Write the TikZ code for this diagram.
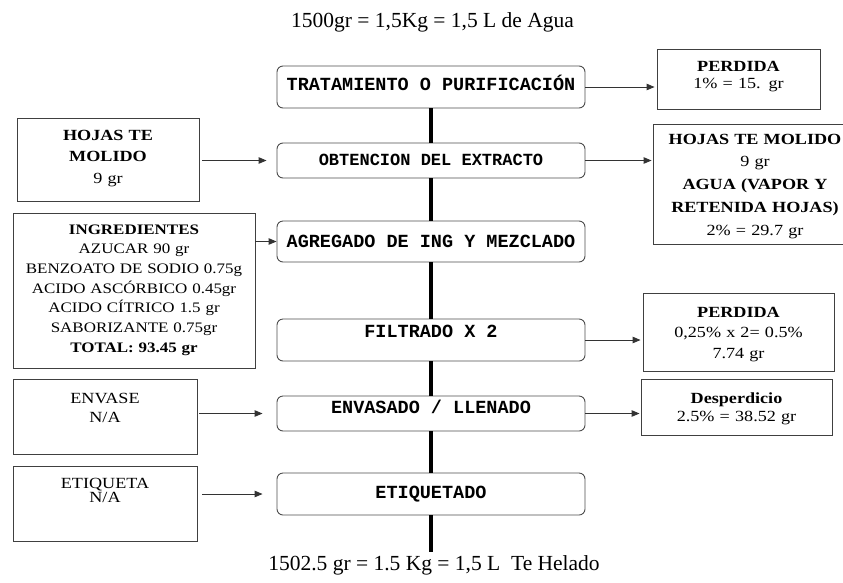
\documentclass[tikz,border=0pt]{standalone}
\usepackage{fontspec}
\setmainfont{Liberation Serif}
\newfontfamily\boxfont[FakeStretch=1.17]{Liberation Serif}
\newfontfamily\procfont{Liberation Mono}
\usetikzlibrary{arrows.meta}
\newcommand\bxf[2]{\boxfont\fontsize{#1}{#2}\selectfont}
\newcommand\prf[1]{\procfont\bfseries\fontsize{#1}{20}\selectfont}
\tikzset{
	proc/.style={draw=black!70,line width=0.9pt,rounded corners=6pt,minimum width=308pt,inner sep=0pt,anchor=base,font=\prf{18.5}},
	side/.style={draw=black!75,line width=0.9pt,inner sep=0pt,anchor=base,align=center},
	arr/.style={draw=black!80,line width=0.9pt,-{Triangle[length=8pt,width=6.5pt]}},
	flow/.style={line width=3.5pt},
	big/.style={anchor=base,font=\fontsize{21.5}{24}\selectfont}
}

\begin{document}
\begin{tikzpicture}[x=1pt,y=-1pt]
	\useasboundingbox (0,0) rectangle (843,582);
	\node[big] (entrada) at (432.5,27.5) {1500gr = 1,5Kg = 1,5 L de Agua};
	% etapas del proceso
	\node[proc,text height=24pt,text depth=18pt] (trat) at (431,90) {TRATAMIENTO O PURIFICACIÓN};
	\node[proc,text height=22pt,text depth=13pt,font=\prf{17}] (obt) at (431,165) {OBTENCION DEL EXTRACTO};
	\node[proc,text height=26pt,text depth=15pt] (agreg) at (431,247) {AGREGADO DE ING Y MEZCLADO};
	\node[proc,text height=18pt,text depth=24pt] (filt) at (431,337) {FILTRADO X 2};
	\node[proc,text height=17pt,text depth=18pt] (envas) at (431,413) {ENVASADO / LLENADO};
	\node[proc,text height=25pt,text depth=17pt] (etiq) at (431,498) {ETIQUETADO};
	\node[big] (salida) at (434,570) {1502.5 gr = 1.5 Kg = 1,5 L \ Te Helado};
	\coordinate (fin) at (431,552);
	% entradas
	\node[side,text width=182pt,text height=22pt,text depth=61pt,font=\bxf{15.5}{21.5}] (hojasL) at (108,140) {\textbf{HOJAS TE}\\\textbf{MOLIDO}\\9 gr};
	\node[side,text width=242pt,text height=21pt,text depth=134pt,font=\bxf{14.5}{19.67}] (ingred) at (134,234) {\textbf{INGREDIENTES}\\AZUCAR 90 gr\\BENZOATO DE SODIO 0.75g\\ACIDO ASCÓRBICO 0.45gr\\ACIDO CÍTRICO 1.5 gr\\SABORIZANTE 0.75gr\\\textbf{TOTAL: 93.45 gr}};
	\node[side,text width=184pt,text height=24pt,text depth=51pt,font=\bxf{15.5}{19}] (envase) at (105,403) {ENVASE\\N/A};
	\node[side,text width=184pt,text height=22pt,text depth=53pt,font=\bxf{15.5}{14.5}] (etiqueta) at (105,488) {ETIQUETA\\N/A};
	% salidas
	\node[side,text width=163pt,text height=22.7pt,text depth=37.3pt,font=\bxf{15.5}{16.7}] (perd1) at (738.5,71.7) {\textbf{PERDIDA}\\1\% = 15. gr};
	\node[side,text width=204pt,text height=20pt,text depth=100pt,font=\bxf{15.5}{22.75}] (hojasR) at (755,144) {\textbf{HOJAS TE MOLIDO}\\9 gr\\\textbf{AGUA (VAPOR Y}\\\textbf{RETENIDA HOJAS)}\\2\% = 29.7 gr};
	\node[side,text width=191pt,text height=24pt,text depth=54pt,font=\bxf{15.5}{20.5}] (perd2) at (738.5,317) {\textbf{PERDIDA}\\0,25\% x 2= 0.5\%\\7.74 gr};
	\node[side,text width=191pt,text height=24pt,text depth=32pt,font=\bxf{15.5}{18}] (desp) at (736.5,403) {\textbf{Desperdicio}\\2.5\% = 38.52 gr};
	% linea principal
	\foreach \a/\b in {trat/obt,obt/agreg,agreg/filt,filt/envas,envas/etiq}
		\draw[flow] (\a) -- (\b);
	\draw[flow] (etiq) -- (fin);
	% flechas
	\draw[arr,shorten >=2pt] (trat.east) -- (trat.east -| perd1.west);
	\draw[arr,shorten >=1pt] (obt.east) -- (obt.east -| hojasR.west);
	\draw[arr,shorten >=2pt] (filt.east) -- (filt.east -| perd2.west);
	\draw[arr,shorten >=1pt] (envas.east) -- (envas.east -| desp.west);
	\draw[arr,shorten <=3pt,shorten >=10pt] (hojasL.east |- obt.west) -- (obt.west);
	\draw[arr] (ingred.east |- agreg.west) -- (agreg.west);
	\draw[arr,shorten <=2pt,shorten >=14pt] (envase.east |- envas.west) -- (envas.west);
	\draw[arr,shorten <=5pt,shorten >=14pt] (etiqueta.east |- etiq.west) -- (etiq.west);
\end{tikzpicture}
\end{document}
